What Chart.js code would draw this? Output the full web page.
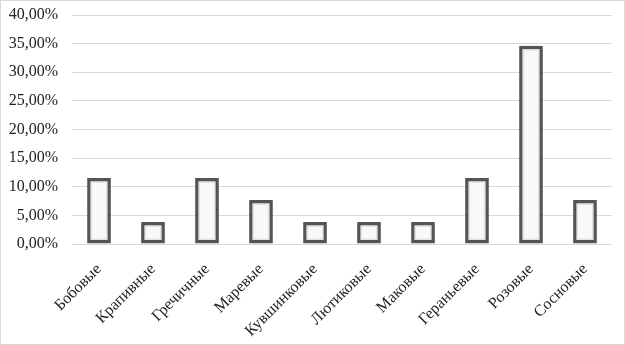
<!DOCTYPE html>
<html>
<head>
<meta charset="utf-8">
<script src="https://cdn.jsdelivr.net/npm/chart.js@4.4.0/dist/chart.umd.min.js"></script>
<style>
  html, body { margin: 0; padding: 0; background: #fff; }
  #wrap { position: relative; width: 625px; height: 345px; box-sizing: border-box; border: 1px solid #d9d9d9; }
</style>
</head>
<body>
<div id="wrap"><canvas id="chart" width="623" height="343"></canvas></div>
<script>
// семейства и доли видов
const families = ['Бобовые', 'Крапивные', 'Гречичные', 'Маревые', 'Кувшинковые',
                  'Лютиковые', 'Маковые', 'Гераньевые', 'Розовые', 'Сосновые'];
const shares = [11.54, 3.85, 11.54, 7.69, 3.85, 3.85, 3.85, 11.54, 34.62, 7.69];
const yMax = 40;
const yStep = 5;

const fmt = v => v.toFixed(2).replace('.', ',') + '%';

// внутренняя светлая заливка столбца (имитация градиента)
const innerFill = {
  id: 'innerFill',
  afterDatasetsDraw(chart) {
    const ctx = chart.ctx;
    chart.getDatasetMeta(0).data.forEach(bar => {
      const left = bar.x - bar.width / 2, right = bar.x + bar.width / 2;
      const top = Math.min(bar.y, bar.base), bottom = Math.max(bar.y, bar.base);
      const inset = 5;
      if (bottom - top <= inset * 2) return;
      ctx.save();
      ctx.fillStyle = '#f9f9f9';
      ctx.fillRect(left + inset, top + inset, right - left - inset * 2, bottom - top - inset * 2);
      ctx.restore();
    });
  }
};

Chart.defaults.font.family = "'Liberation Serif', 'Times New Roman', serif";
Chart.defaults.color = '#333';

new Chart(document.getElementById('chart'), {
  type: 'bar',
  data: {
    labels: families,
    datasets: [{
      data: shares,
      backgroundColor: '#e2e2e2',
      borderColor: '#545454',
      borderWidth: 3.5,
      borderSkipped: false,
      categoryPercentage: 1,
      barPercentage: 0.44
    }]
  },
  options: {
    responsive: false,
    animation: false,
    layout: { padding: { left: 0, right: 12, top: 14, bottom: 0 } },
    plugins: { legend: { display: false }, tooltip: { enabled: false } },
    scales: {
      x: {
        grid: { display: false, drawTicks: false },
        border: { display: false },
        ticks: { font: { size: 16 }, maxRotation: 45, minRotation: 45, padding: 16, color: '#222' },
        afterFit: s => { s.height = 100; }
      },
      y: {
        min: 0, max: yMax,
        grid: { color: '#d9d9d9', lineWidth: 1, drawTicks: false },
        border: { display: false },
        ticks: { stepSize: yStep, font: { size: 16 }, padding: 14, color: '#222', callback: v => fmt(v) },
        afterFit: s => { s.width = 71; s.paddingTop = 0; s.paddingBottom = 0; }
      }
    }
  },
  plugins: [innerFill]
});
</script>
</body>
</html>
